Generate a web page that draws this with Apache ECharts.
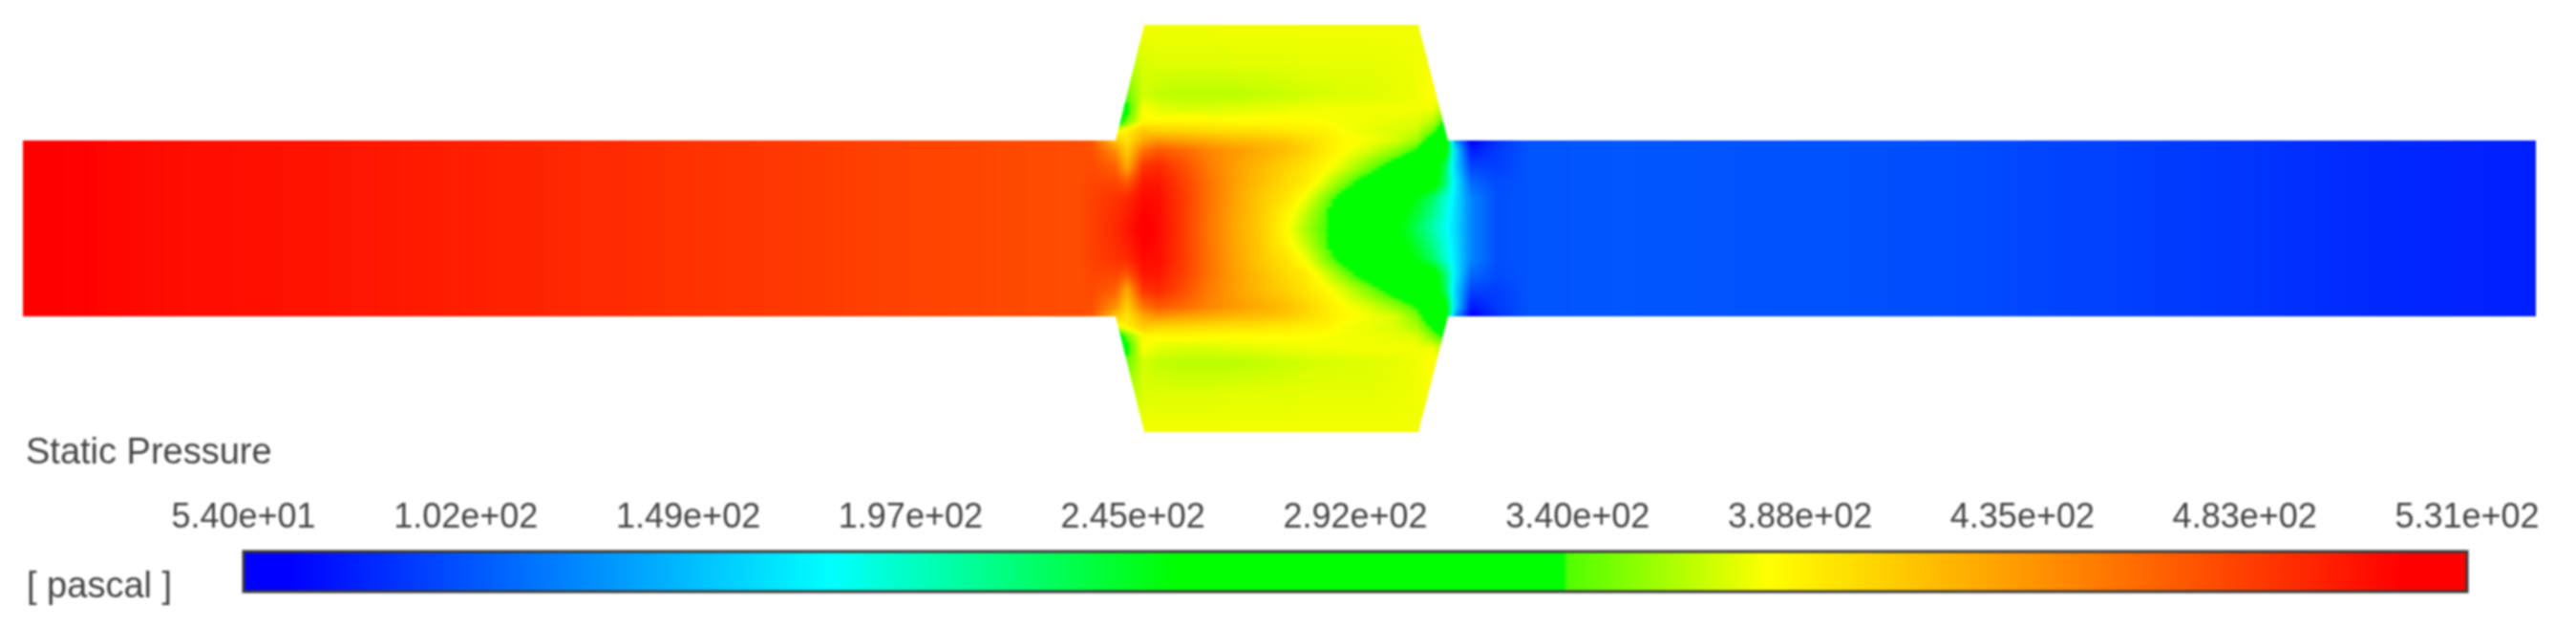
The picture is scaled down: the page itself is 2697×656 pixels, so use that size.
<!DOCTYPE html>
<html>
<head>
<meta charset="utf-8">
<title>Static Pressure</title>
<script src="https://cdn.jsdelivr.net/npm/echarts@6/dist/echarts.min.js"></script>
<style>
  html, body { margin: 0; padding: 0; background: #fff; }
  #chart { width: 2697px; height: 656px; filter: blur(0.9px); }
</style>
</head>
<body>
<div id="chart"></div>
<script>
// legend
const tickLabels = ['5.40e+01', '1.02e+02', '1.49e+02', '1.97e+02', '2.45e+02', '2.92e+02', '3.40e+02', '3.88e+02', '4.35e+02', '4.83e+02', '5.31e+02'];
const scalePressure = [54, 64, 180, 254, 337, 338, 381, 517, 531];
const scaleColors = ['#0000ff', '#0000ff', '#00ffff', '#00ff00', '#00ff00', '#50ff00', '#ffff00', '#ff0000', '#ff0000'];

// pipe, upstream and downstream of the chamber (pascal along the axis)
const inletX = [24, 60, 200, 400, 700, 1000, 1130];
const inletP = [520, 517, 510, 505, 492, 480, 476];
const outletX = [1600, 1700, 2000, 2300, 2500, 2655];
const outletP = [102, 103, 100, 90, 82, 78];

// chamber, pascal at chamberX (columns) and chamberY (rows)
const chamberX = [1143, 1168, 1180, 1197, 1213, 1240, 1267, 1293, 1320, 1347, 1367, 1387, 1407, 1433, 1460, 1483, 1500, 1513, 1523, 1540, 1567];
const chamberY = [-213, -172, -140, -125, -113, -102, -92, -82, -65, -48, -32, -16, 0, 16, 32, 48, 65, 82, 92, 102, 113, 125, 140, 172, 213];
const chamberP = [
  [378, 378, 378, 378, 378, 378, 378, 378, 378, 378, 378, 378, 378, 378, 378, 378, 378, 378, 378, 378, 378],
  [360, 360, 360, 372, 373, 373, 373, 374, 374, 374, 375, 375, 375, 375, 376, 377, 380, 380, 380, 380, 380],
  [345, 345, 345, 370, 366, 364, 364, 364, 366, 368, 370, 371, 372, 373, 375, 377, 382, 382, 382, 382, 382],
  [320, 320, 330, 381, 374, 372, 372, 374, 375, 376, 377, 378, 378, 378, 378, 378, 378, 360, 360, 360, 360],
  [300, 300, 345, 383, 383, 384, 383, 382, 382, 382, 381, 380, 378, 377, 376, 374, 365, 335, 335, 335, 335],
  [375, 375, 390, 410, 405, 403, 400, 398, 396, 392, 390, 388, 380, 376, 372, 368, 345, 310, 300, 300, 300],
  [472, 410, 395, 426, 438, 430, 425, 418, 415, 410, 400, 392, 384, 378, 372, 357, 320, 290, 140, 62, 85],
  [475, 440, 405, 455, 470, 460, 445, 435, 425, 415, 405, 392, 382, 372, 356, 335, 300, 270, 170, 75, 90],
  [478, 465, 425, 490, 495, 475, 450, 432, 418, 405, 395, 385, 372, 350, 325, 295, 280, 230, 165, 95, 92],
  [480, 480, 470, 505, 505, 482, 455, 432, 415, 400, 392, 372, 350, 320, 300, 285, 275, 225, 175, 112, 98],
  [482, 490, 495, 512, 510, 485, 455, 430, 410, 395, 378, 352, 325, 295, 280, 250, 225, 195, 170, 125, 100],
  [482, 493, 500, 517, 511, 485, 454, 429, 409, 387, 366, 342, 305, 282, 268, 240, 215, 190, 168, 125, 100],
  [482, 495, 505, 520, 512, 485, 453, 428, 408, 383, 360, 338, 300, 275, 262, 230, 205, 185, 165, 125, 100],
  [482, 493, 500, 517, 511, 485, 454, 429, 409, 387, 366, 342, 305, 282, 268, 240, 215, 190, 168, 125, 100],
  [482, 490, 495, 512, 510, 485, 455, 430, 410, 395, 378, 352, 325, 295, 280, 250, 225, 195, 170, 125, 100],
  [480, 480, 470, 505, 505, 482, 455, 432, 415, 400, 392, 372, 350, 320, 300, 285, 275, 225, 175, 112, 98],
  [478, 465, 425, 490, 495, 475, 450, 432, 418, 405, 395, 385, 372, 350, 325, 295, 280, 230, 165, 95, 92],
  [475, 440, 405, 455, 470, 460, 445, 435, 425, 415, 405, 392, 382, 372, 356, 335, 300, 270, 170, 75, 90],
  [472, 410, 395, 426, 438, 430, 425, 418, 415, 410, 400, 392, 384, 378, 372, 350, 310, 280, 140, 62, 85],
  [375, 375, 390, 410, 405, 403, 400, 398, 396, 392, 390, 388, 380, 376, 372, 360, 330, 300, 300, 300, 300],
  [300, 300, 345, 383, 383, 384, 383, 382, 382, 382, 381, 380, 378, 377, 376, 372, 350, 330, 335, 335, 335],
  [320, 320, 330, 381, 374, 372, 372, 374, 375, 376, 377, 378, 378, 378, 378, 378, 378, 360, 360, 360, 360],
  [345, 345, 345, 370, 366, 364, 364, 364, 366, 368, 370, 371, 372, 373, 375, 377, 382, 382, 382, 382, 382],
  [360, 360, 360, 372, 373, 373, 373, 374, 374, 374, 375, 375, 375, 375, 376, 377, 380, 380, 380, 380, 380],
  [378, 378, 378, 378, 378, 378, 378, 378, 378, 378, 378, 378, 378, 378, 378, 378, 378, 378, 378, 378, 378],
];

// outline of the domain
const pipeHalf = 92;
const chamberHalf = 213;
const wallLeft = [1168, 1198];
const wallRight = [1516, 1485];

function lerp(a, b, t) {
  return a + (b - a) * t;
}

function rgbOf(hex) {
  return [1, 3, 5].map((i) => parseInt(hex.substr(i, 2), 16));
}

// same colour table as the legend
function pressureColor(p) {
  let i = 0;
  while (i < scalePressure.length - 2 && p > scalePressure[i + 1]) i++;
  const t = Math.max(0, Math.min(1, (p - scalePressure[i]) / (scalePressure[i + 1] - scalePressure[i])));
  const a = rgbOf(scaleColors[i]);
  const b = rgbOf(scaleColors[i + 1]);
  return `rgb(${Math.round(lerp(a[0], b[0], t))},${Math.round(lerp(a[1], b[1], t))},${Math.round(lerp(a[2], b[2], t))})`;
}

// x stations and pressure along one horizontal line at height y
function lineAt(y) {
  let r = 0;
  while (r < chamberY.length - 2 && y > chamberY[r + 1]) r++;
  const t = (y - chamberY[r]) / (chamberY[r + 1] - chamberY[r]);
  const mid = chamberX.map((x, c) => lerp(chamberP[r][c], chamberP[r + 1][c], t));
  return {
    xs: inletX.concat(chamberX, outletX),
    ps: inletP.concat(mid, outletP),
  };
}

function valueOn(line, x) {
  let i = 0;
  while (i < line.xs.length - 2 && x > line.xs[i + 1]) i++;
  const t = (x - line.xs[i]) / (line.xs[i + 1] - line.xs[i]);
  return lerp(line.ps[i], line.ps[i + 1], Math.max(0, Math.min(1, t)));
}

function renderBand(params, api) {
  const y1 = api.value(1);
  const y2 = api.value(2);
  const top = Math.round(api.coord([24, y1])[1]);
  const bottom = Math.round(api.coord([24, y2])[1]);
  const n = Math.max(1, Math.round((bottom - top) / 2));
  const children = [];
  for (let k = 0; k < n; k++) {
    const y = lerp(y1, y2, (k + 0.5) / n);
    const outside = Math.abs(y) > pipeHalf;
    const wallT = (Math.abs(y) - pipeHalf) / (chamberHalf - pipeHalf);
    const xL = outside ? lerp(wallLeft[0], wallLeft[1], wallT) : inletX[0];
    const xR = outside ? lerp(wallRight[0], wallRight[1], wallT) : outletX[outletX.length - 1];
    const line = lineAt(y);
    const px0 = api.coord([xL, y])[0];
    const px1 = api.coord([xR, y])[0];
    // gradient stops at every station, a few more between them since the colour table has kinks
    const sampleX = [xL];
    line.xs.forEach((x, i) => {
      if (i === 0) return;
      const prev = line.xs[i - 1];
      [0.25, 0.5, 0.75, 1].forEach((f) => {
        const sx = lerp(prev, x, f);
        if (sx > xL && sx < xR) sampleX.push(sx);
      });
    });
    sampleX.push(xR);
    const stops = sampleX.map((sx) => ({
      offset: (sx - xL) / (xR - xL),
      color: pressureColor(valueOn(line, sx)),
    }));
    // whole pixels, otherwise seams show between the rows
    const rowTop = Math.round(lerp(top, bottom, k / n));
    const rowBottom = Math.round(lerp(top, bottom, (k + 1) / n));
    children.push({
      type: 'rect',
      shape: { x: px0, y: rowTop, width: px1 - px0, height: rowBottom - rowTop },
      style: { fill: new echarts.graphic.LinearGradient(0, 0, 1, 0, stops) },
      silent: true,
    });
  }
  return { type: 'group', children };
}

function renderRamp(params, api) {
  const a = api.coord([scalePressure[0], 0]);
  const b = api.coord([scalePressure[scalePressure.length - 1], 1]);
  const span = scalePressure[scalePressure.length - 1] - scalePressure[0];
  return {
    type: 'rect',
    shape: { x: a[0], y: b[1], width: b[0] - a[0], height: a[1] - b[1] },
    style: {
      fill: new echarts.graphic.LinearGradient(0, 0, 1, 0, scalePressure.map((p, i) => ({
        offset: (p - scalePressure[0]) / span,
        color: scaleColors[i],
      }))),
      stroke: '#3a3a3a',
      lineWidth: 3,
    },
  };
}

const myChart = echarts.init(document.getElementById('chart'), null, { renderer: 'canvas' });
const textStyle = { fontFamily: 'Liberation Sans', fontSize: 38, fontWeight: 'normal', color: '#454545' };
const option = {
  animation: false,
  backgroundColor: '#fff',
  title: [
    { text: 'Static Pressure', left: 27, top: 456, padding: 0, textStyle },
    { text: '[ pascal ]', left: 28, top: 596, padding: 0, textStyle },
  ],
  grid: [
    { left: 24, width: 2631, top: 25, height: 427 },
    { left: 255, width: 2328, top: 577, height: 42 },
  ],
  xAxis: [
    { gridIndex: 0, type: 'value', min: 24, max: 2655, show: false },
    { gridIndex: 1, type: 'value', min: 54, max: 531, show: false },
    {
      gridIndex: 1,
      type: 'category',
      position: 'top',
      boundaryGap: false,
      data: tickLabels,
      axisLine: { show: false },
      axisTick: { show: false },
      axisLabel: { ...textStyle, fontSize: 36, interval: 0, margin: 17, hideOverlap: false },
    },
  ],
  yAxis: [
    { gridIndex: 0, type: 'value', min: -213.5, max: 213.5, inverse: true, show: false },
    { gridIndex: 1, type: 'value', min: 0, max: 1, show: false },
  ],
  series: [
    {
      name: 'Static Pressure',
      type: 'custom',
      xAxisIndex: 0,
      yAxisIndex: 0,
      clip: false,
      silent: true,
      renderItem: renderBand,
      encode: { x: [], y: [1, 2] },
      data: chamberY.slice(0, -1).map((y, i) => [i, y, chamberY[i + 1]]),
    },
    {
      name: 'legend',
      type: 'custom',
      xAxisIndex: 1,
      yAxisIndex: 1,
      clip: false,
      silent: true,
      renderItem: renderRamp,
      data: [[54, 0]],
    },
    // only here so the label axis gets drawn
    {
      type: 'line',
      xAxisIndex: 2,
      yAxisIndex: 1,
      data: [],
    },
  ],
};
myChart.setOption(option);
</script>
</body>
</html>
